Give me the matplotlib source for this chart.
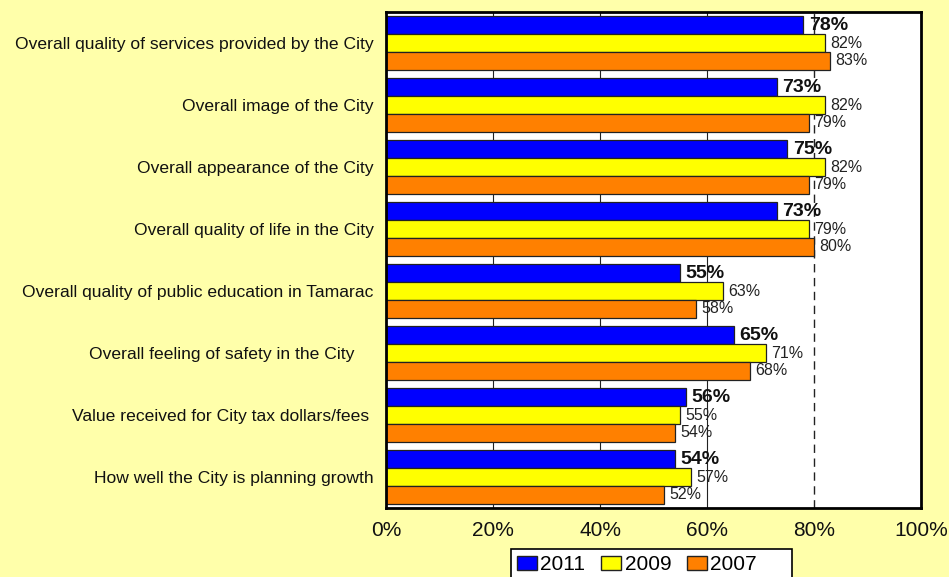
import numpy as np
import matplotlib
matplotlib.use("Agg")
import matplotlib.pyplot as plt
from matplotlib.patches import Patch

matplotlib.rcParams['font.family'] = ['Liberation Sans', 'DejaVu Sans']

categories = ["Overall quality of services provided by the City",
              "Overall image of the City",
              "Overall appearance of the City",
              "Overall quality of life in the City",
              "Overall quality of public education in Tamarac",
              "Overall feeling of safety in the City    ",
              "Value received for City tax dollars/fees ",
              "How well the City is planning growth"]
years = ["2011", "2009", "2007"]
v2011 = [78, 73, 75, 73, 55, 65, 56, 54]
v2009 = [82, 82, 82, 79, 63, 71, 55, 57]
v2007 = [83, 79, 79, 80, 58, 68, 54, 52]
xticks = [0, 20, 40, 60, 80, 100]

colors = ['#0000FF', '#FFFF00', '#FF8000']
bg = '#FFFFAA'

fig = plt.figure(figsize=(9.49, 5.77), dpi=100, facecolor=bg)
ax = fig.add_axes([386/949, 1-508/577, 535/949, 496/577])

y = np.arange(len(categories))
h = 0.29
for e, vals in enumerate([v2011, v2009, v2007]):
    pos = y + (e-1)*h
    ax.barh(pos, vals, height=h, color=colors[e], edgecolor='#222222',
            linewidth=0.9, zorder=2, label=years[e])
    for p, v in zip(pos, vals):
        if e == 0:
            ax.annotate(f"{v}%", (v, p), xytext=(4, 0), textcoords='offset points',
                        va='center', ha='left', fontsize=14, fontweight='bold',
                        color='#111111', zorder=3)
        else:
            ax.annotate(f"{v}%", (v, p), xytext=(4, 0), textcoords='offset points',
                        va='center', ha='left', fontsize=11.5,
                        color='#222222', zorder=3)

# gridlines behind the bars
for g in [20, 40, 60]:
    ax.axvline(g, color='#222222', linewidth=0.8, zorder=1)
ax.axvline(80, color='#222222', linewidth=1.0, linestyle=(0, (6, 4)), zorder=1)

ax.set_xlim(0, 100)
ax.set_ylim(len(categories)-0.5, -0.5)
ax.set_xticks(xticks)
ax.set_xticklabels([f"{t}%" for t in xticks], fontsize=15, color='#111111')
ax.set_yticks(y)
ax.set_yticklabels(categories, fontsize=12.6, color='#111111')
ax.tick_params(axis='both', length=0)
ax.tick_params(axis='y', pad=9)
ax.tick_params(axis='x', pad=9.5)
for s in ax.spines.values():
    s.set_linewidth(2)
    s.set_color('black')
ax.set_facecolor('white')

leg_labels = ["2011", "2009", "2007     "]
handles = [Patch(facecolor=colors[i], edgecolor='#222222', label=leg_labels[i]) for i in range(3)]
leg = fig.legend(handles=handles, loc='upper left', bbox_to_anchor=(511/949, 1-549/577),
                 ncol=3, fontsize=15, frameon=True, fancybox=False, framealpha=1,
                 facecolor='white',
                 handlelength=0.96, handleheight=0.6, handletextpad=0.15,
                 columnspacing=0.77, borderpad=0.3, borderaxespad=0)
leg.get_frame().set_edgecolor('black')
leg.get_frame().set_linewidth(1.2)

fig.savefig("out.png", dpi=100, facecolor=bg)
